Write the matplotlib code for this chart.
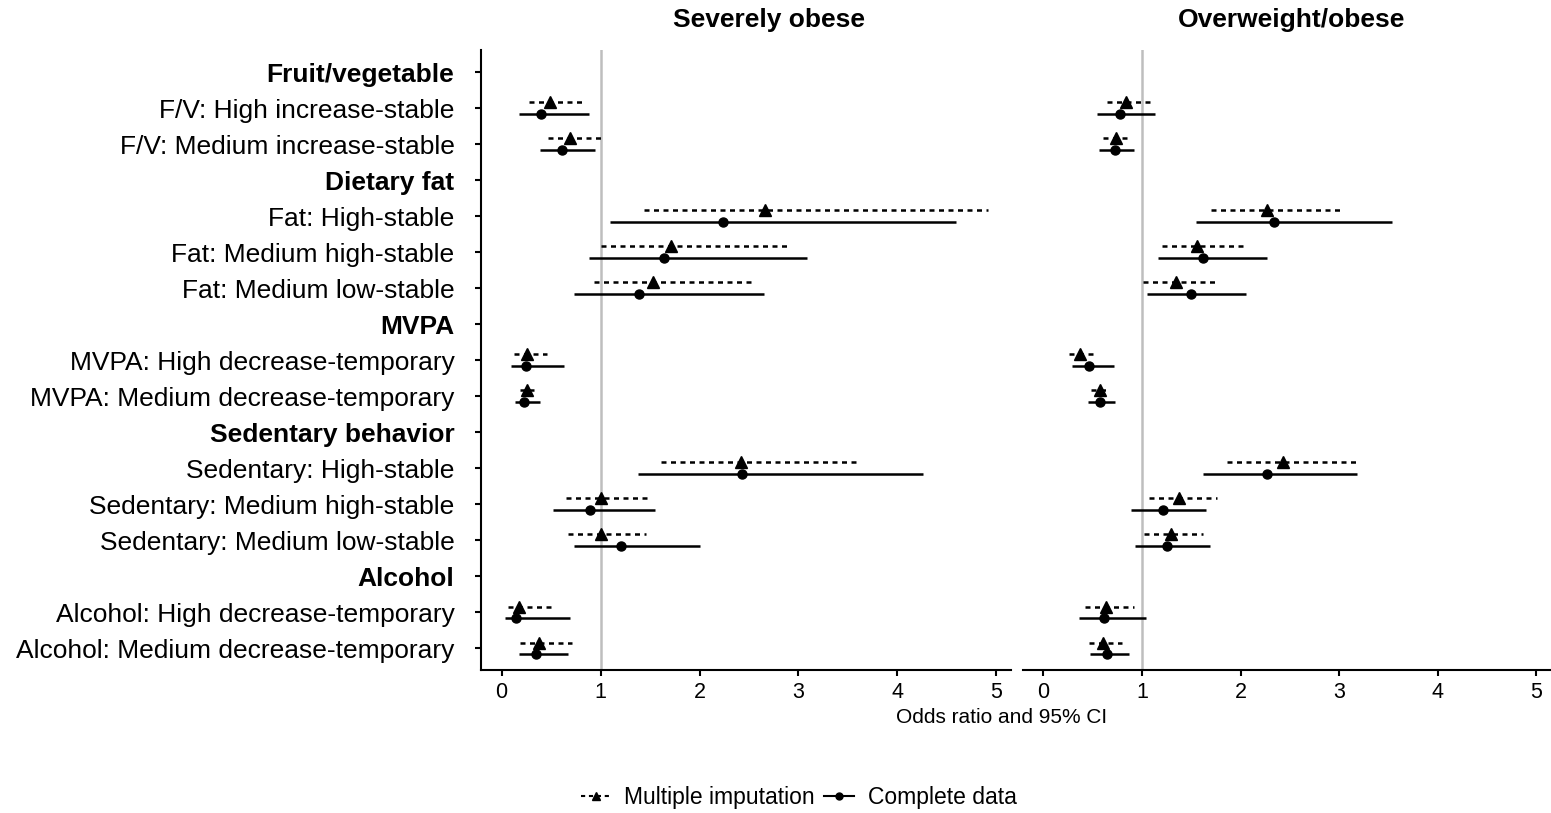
import numpy as np
import matplotlib.pyplot as plt
from matplotlib.lines import Line2D

plt.rcParams['font.family'] = ['Liberation Sans', 'DejaVu Sans']

# rows, top to bottom (headers have no estimates)
row_labels = ['Fruit/vegetable',
              'F/V: High increase-stable', 'F/V: Medium increase-stable',
              'Dietary fat',
              'Fat: High-stable', 'Fat: Medium high-stable', 'Fat: Medium low-stable',
              'MVPA',
              'MVPA: High decrease-temporary', 'MVPA: Medium decrease-temporary',
              'Sedentary behavior',
              'Sedentary: High-stable', 'Sedentary: Medium high-stable', 'Sedentary: Medium low-stable',
              'Alcohol',
              'Alcohol: High decrease-temporary', 'Alcohol: Medium decrease-temporary']
headers = ['Fruit/vegetable', 'Dietary fat', 'MVPA', 'Sedentary behavior', 'Alcohol']

# severely obese
sev_mi_or = [0.49, 0.69, 2.66, 1.71, 1.53, 0.26, 0.26, 2.42, 1.00, 1.00, 0.18, 0.38]
sev_mi_lo = [0.28, 0.47, 1.44, 1.00, 0.93, 0.13, 0.19, 1.61, 0.65, 0.67, 0.06, 0.19]
sev_mi_hi = [0.82, 1.01, 4.92, 2.91, 2.53, 0.46, 0.33, 3.61, 1.48, 1.46, 0.51, 0.71]
sev_cd_or = [0.40, 0.61, 2.24, 1.64, 1.39, 0.25, 0.23, 2.43, 0.89, 1.21, 0.15, 0.35]
sev_cd_lo = [0.18, 0.39, 1.10, 0.88, 0.73, 0.10, 0.14, 1.38, 0.52, 0.73, 0.03, 0.18]
sev_cd_hi = [0.88, 0.94, 4.59, 3.09, 2.65, 0.63, 0.39, 4.26, 1.55, 2.00, 0.69, 0.67]

# overweight/obese
ow_mi_or = [0.84, 0.74, 2.27, 1.56, 1.35, 0.37, 0.57, 2.43, 1.38, 1.29, 0.63, 0.60]
ow_mi_lo = [0.64, 0.60, 1.70, 1.20, 1.01, 0.26, 0.48, 1.86, 1.07, 1.02, 0.42, 0.46]
ow_mi_hi = [1.08, 0.85, 3.02, 2.02, 1.74, 0.50, 0.67, 3.17, 1.76, 1.62, 0.92, 0.80]
ow_cd_or = [0.78, 0.73, 2.34, 1.62, 1.50, 0.46, 0.57, 2.27, 1.21, 1.25, 0.61, 0.64]
ow_cd_lo = [0.54, 0.56, 1.55, 1.16, 1.05, 0.29, 0.45, 1.62, 0.89, 0.93, 0.36, 0.47]
ow_cd_hi = [1.13, 0.92, 3.54, 2.27, 2.06, 0.72, 0.73, 3.18, 1.65, 1.69, 1.04, 0.87]

item_rows = np.array([i for i, l in enumerate(row_labels) if l not in headers])
dodge = 0.16
dash = (0, (2.0, 1.8))

fig = plt.figure(figsize=(15.51, 8.13), dpi=100)
ax1 = fig.add_axes([0.310, 0.176, 0.342, 0.762])
ax2 = fig.add_axes([0.6594, 0.176, 0.3406, 0.762])


def draw_panel(ax, mi_or, mi_lo, mi_hi, cd_or, cd_lo, cd_hi):
    ax.axvline(1, color='#bebebe', lw=1.8, zorder=0)
    y_mi = item_rows - dodge
    y_cd = item_rows + dodge
    ax.hlines(y_mi, mi_lo, mi_hi, colors='black', lw=1.8, linestyles=[dash])
    ax.hlines(y_cd, cd_lo, cd_hi, colors='black', lw=1.8)
    ax.plot(mi_or, y_mi, ls='none', marker='^', ms=8, color='black')
    ax.plot(cd_or, y_cd, ls='none', marker='o', ms=6.5, color='black')
    ax.set_xlim(-0.21, 5.15)
    ax.set_ylim(len(row_labels) - 0.4, -0.6)
    ax.set_xticks(range(6))
    ax.tick_params(axis='x', length=4, width=1.5, pad=5, labelsize=15.5)
    for s in ['top', 'right']:
        ax.spines[s].set_visible(False)
    ax.spines['bottom'].set_linewidth(1.5)
    ax.spines['left'].set_linewidth(1.5)


draw_panel(ax1, sev_mi_or, sev_mi_lo, sev_mi_hi, sev_cd_or, sev_cd_lo, sev_cd_hi)
draw_panel(ax2, ow_mi_or, ow_mi_lo, ow_mi_hi, ow_cd_or, ow_cd_lo, ow_cd_hi)

ax1.set_yticks(range(len(row_labels)))
ax1.set_yticklabels(row_labels, fontsize=19)
for t in ax1.get_yticklabels():
    if t.get_text() in headers:
        t.set_fontweight('bold')
ax1.tick_params(axis='y', length=4, width=1.5, pad=15)

ax2.spines['left'].set_visible(False)
ax2.set_yticks([])

fig.text(0.496, 0.9754, 'Severely obese', ha='center', va='center', fontsize=19, fontweight='bold')
fig.text(0.833, 0.9754, 'Overweight/obese', ha='center', va='center', fontsize=19, fontweight='bold')
fig.text(0.646, 0.117, 'Odds ratio and 95% CI', ha='center', va='center', fontsize=15)

handles = [Line2D([], [], color='black', lw=1.5, ls=dash, marker='^', ms=6),
           Line2D([], [], color='black', lw=1.5, marker='o', ms=5)]
fig.legend(handles, ['Multiple imputation', 'Complete data'], loc='center',
           bbox_to_anchor=(0.515, 0.0185), ncol=2, frameon=False, fontsize=16.5,
           handlelength=1.3, handletextpad=0.6, columnspacing=0.4)

plt.savefig('out.png', dpi=100)
plt.close()
